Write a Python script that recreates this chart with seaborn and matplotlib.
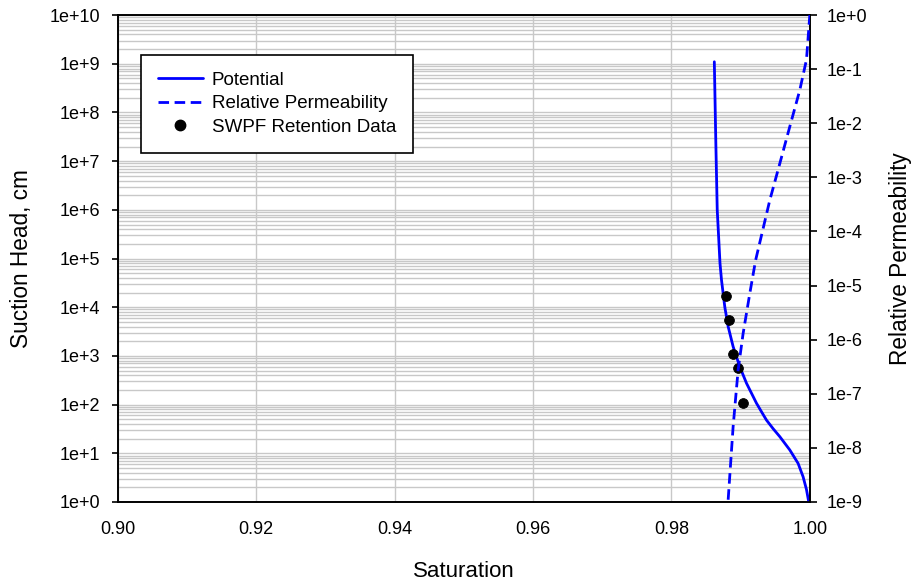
import numpy as np
import pandas as pd
import matplotlib
matplotlib.use("Agg")
import matplotlib.pyplot as plt
import matplotlib.ticker as mticker
from matplotlib.lines import Line2D
import seaborn as sns

# Potential curve (saturation vs suction head, cm)
pot_sat = [0.98620, 0.98642, 0.98662, 0.98702, 0.98724, 0.98772, 0.98820, 0.98892,
           0.98988, 0.99085, 0.99229, 0.99300, 0.99374, 0.99470, 0.99566, 0.99711,
           0.99831, 0.99903, 0.99952, 0.99985]
pot_head = [1.1e9, 2.3e7, 1.0e6, 8.0e4, 3.6e4, 1.0e4, 4.0e3, 1.55e3,
            6.0e2, 2.75e2, 1.07e2, 72.0, 48.0, 32.0, 22.0, 11.7,
            6.2, 3.3, 1.8, 1.0]

# Relative permeability curve
kr_sat = [0.98820, 0.98892, 0.98964, 0.99036, 0.99133, 0.99217, 0.99422, 0.99566,
          0.99711, 0.99855, 0.99952, 1.0]
kr_val = [1.1e-9, 2.5e-8, 2.75e-7, 1.3e-6, 7.2e-6, 2.95e-5, 3.8e-4, 1.8e-3,
          8.7e-3, 4.1e-2, 1.5e-1, 1.0]

# SWPF retention data
ret_sat = [0.98786, 0.98839, 0.98892, 0.98969, 0.99032]
ret_head = [1.7e4, 5.5e3, 1.1e3, 5.6e2, 1.1e2]

x_ticks = [0.90, 0.92, 0.94, 0.96, 0.98, 1.00]
series_labels = ["Potential", "Relative Permeability", "SWPF Retention Data"]

sns.set_style("white")
plt.rcParams['font.family'] = ['Liberation Sans', 'DejaVu Sans']
plt.rcParams.update({"text.color": "black", "axes.labelcolor": "black",
                     "xtick.color": "black", "ytick.color": "black"})

fig = plt.figure(figsize=(9.14, 5.81), dpi=100)
ax = fig.add_axes([0.129, 0.136, 0.757, 0.838])
ax2 = ax.twinx()

blue = "#0000ff"
dash = [3.8, 2.0]
pot_df = pd.DataFrame({"sat": pot_sat, "head": pot_head})
kr_df = pd.DataFrame({"sat": kr_sat, "kr": kr_val})
ret_df = pd.DataFrame({"sat": ret_sat, "head": ret_head})

sns.lineplot(data=pot_df, x="sat", y="head", ax=ax, color=blue, lw=2, sort=False, zorder=3)
sns.scatterplot(data=ret_df, x="sat", y="head", ax=ax, color="black", s=50,
                edgecolor="black", zorder=4)
sns.lineplot(data=kr_df, x="sat", y="kr", ax=ax2, color=blue, lw=2, sort=False, zorder=3)
ax2.lines[0].set_dashes(dash)

ax.set_yscale("log")
ax2.set_yscale("log")
ax.set_xlim(0.90, 1.00)
ax.set_ylim(1, 1e10)
ax2.set_ylim(1e-9, 1)

ax.set_xticks(x_ticks)
ax.xaxis.set_major_formatter(mticker.FormatStrFormatter("%.2f"))
ax.yaxis.set_major_locator(mticker.LogLocator(base=10, numticks=20))
ax.yaxis.set_minor_locator(mticker.LogLocator(base=10, subs=np.arange(2, 10), numticks=20))
ax2.yaxis.set_major_locator(mticker.LogLocator(base=10, numticks=20))
ax2.yaxis.set_minor_locator(mticker.NullLocator())

def fmt_pos(v, p):
    e = int(round(np.log10(v)))
    return f"1e+{e}"

def fmt_r(v, p):
    e = int(round(np.log10(v)))
    return f"1e+{e}" if e >= 0 else f"1e{e}"

ax.yaxis.set_major_formatter(mticker.FuncFormatter(fmt_pos))
ax.yaxis.set_minor_formatter(mticker.NullFormatter())
ax2.yaxis.set_major_formatter(mticker.FuncFormatter(fmt_r))

ax.grid(True, which="major", axis="x", color="#c8c8c8", lw=1)
ax.grid(True, which="both", axis="y", color="#c8c8c8", lw=1)
ax.set_axisbelow(True)

for a in (ax, ax2):
    for s in a.spines.values():
        s.set_color("black")
        s.set_linewidth(1.2)
    a.tick_params(axis="both", which="minor", length=0)
ax.tick_params(axis="x", which="major", direction="out", length=4, width=1.2,
               labelsize=13, pad=9.5)
ax.tick_params(axis="y", which="major", direction="out", length=4, width=1.2,
               labelsize=13, pad=9)
ax2.tick_params(axis="y", which="major", direction="out", length=5, width=1.2,
                labelsize=13, pad=7)

ax.set_xlabel("Saturation", fontsize=16, labelpad=17)
ax.set_ylabel("Suction Head, cm", fontsize=16.3, labelpad=12)
ax2.set_ylabel("Relative Permeability", fontsize=16.3, labelpad=16)

handles = [
    Line2D([], [], color=blue, lw=2),
    Line2D([], [], color=blue, lw=2, dashes=dash),
    Line2D([], [], color="black", marker="o", ls="none", markersize=7.5),
]
leg = ax2.legend(handles, series_labels, loc="upper left", bbox_to_anchor=(0.033, 0.918),
                 fontsize=13.5, frameon=True, fancybox=False, framealpha=1,
                 edgecolor="black", handlelength=2.4, borderpad=0.9,
                 labelspacing=0.33, handletextpad=0.5, borderaxespad=0)
leg.get_frame().set_linewidth(1.2)

fig.savefig("out.png", dpi=100)
